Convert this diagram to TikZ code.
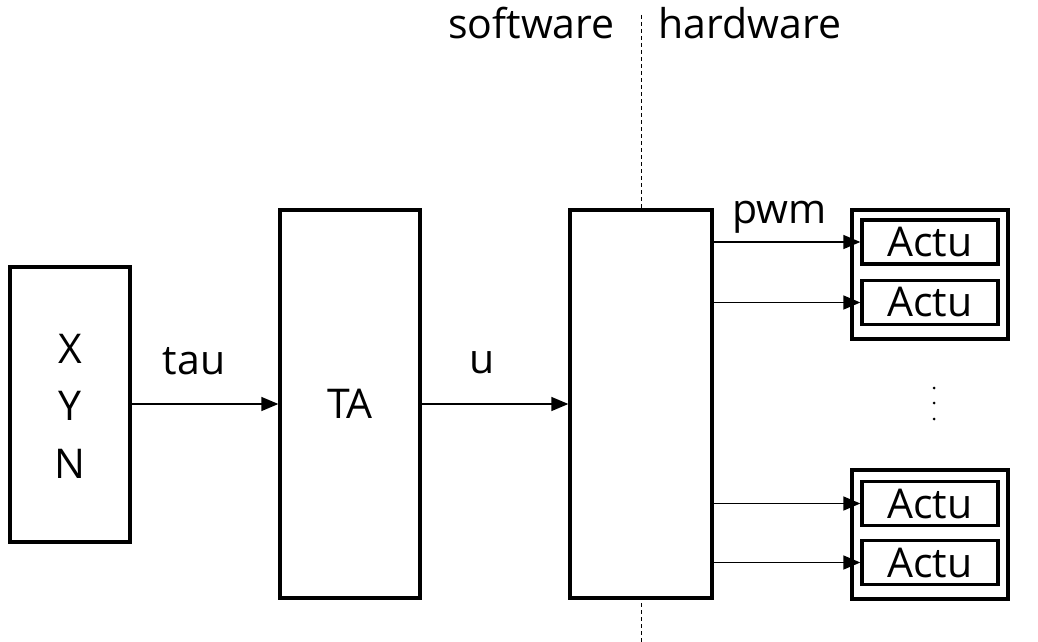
\documentclass[tikz,border=0pt]{standalone}
\usepackage{fontspec}
\setmainfont{Open Sans}
\usetikzlibrary{arrows.meta}
\tikzset{
  blk/.style={draw, line width=3.3pt, fill=white, inner sep=0pt},
  actu/.style={draw, line width=3.3pt, fill=white, inner sep=0pt, minimum width=136pt, minimum height=44pt, font=\fontsize{41}{44}\selectfont},
  grp/.style={draw, line width=3.3pt, fill=white, inner sep=0pt, minimum width=156pt, minimum height=129pt},
  conn/.style={line width=1.4pt, -{Triangle[length=17pt,width=14pt]}},
  lbl/.style={font=\fontsize{41}{44}\selectfont, inner sep=0pt, anchor=base},
}
\begin{document}
\begin{tikzpicture}[x=1pt,y=-1pt]
\useasboundingbox (0,0) rectangle (1038,642);
% divider
\coordinate (dtop) at (641,15);
\coordinate (dbot) at (641,642);
\draw[line width=1pt, dash pattern=on 4pt off 3pt] (dtop) -- (dbot);
\node[lbl] (sw) at (531.5,39) {software};
\node[lbl] (hw) at (750,39) {hardware};
% blocks
\node[blk, minimum width=120pt, minimum height=275pt] (xyn) at (70,404.5) {};
\node[lbl] (lx) at (70,363) {X};
\node[lbl] (ly) at (70,420) {Y};
\node[lbl] (ln) at (70,478) {N};
\node[blk, minimum width=140pt, minimum height=388pt, font=\fontsize{41}{44}\selectfont] (ta) at (350,404) {TA};
\node[blk, minimum width=142pt, minimum height=388pt] (pw) at (641,404) {};
% actuator groups
\node[grp] (g1) at (930,274.5) {};
\node[actu] (a1) at (930,242) {Actu};
\node[actu] (a2) at (930,302.5) {Actu};
\node[grp] (g2) at (930,534.5) {};
\node[actu] (a3) at (930,503.5) {Actu};
\node[actu] (a4) at (930,562.5) {Actu};
% connectors
\draw[conn] (xyn.east |- 0,404) -- (ta.west |- 0,404);
\draw[conn] (ta.east |- 0,404) -- (pw.west |- 0,404);
\node[lbl] (tau) at (194,374) {tau};
\node[lbl] (u) at (482,373) {u};
\draw[conn] (pw.east |- a1.west) -- (a1.west);
\draw[conn] (pw.east |- a2.west) -- (a2.west);
\draw[conn] (pw.east |- a3.west) -- (a3.west);
\draw[conn] (pw.east |- a4.west) -- (a4.west);
\node[lbl] (pwm) at (779.5,223) {pwm};
% vertical dots
\fill (934,388) circle (1.5pt);
\fill (934,403) circle (1.5pt);
\fill (934,419) circle (1.5pt);
\end{tikzpicture}
\end{document}
